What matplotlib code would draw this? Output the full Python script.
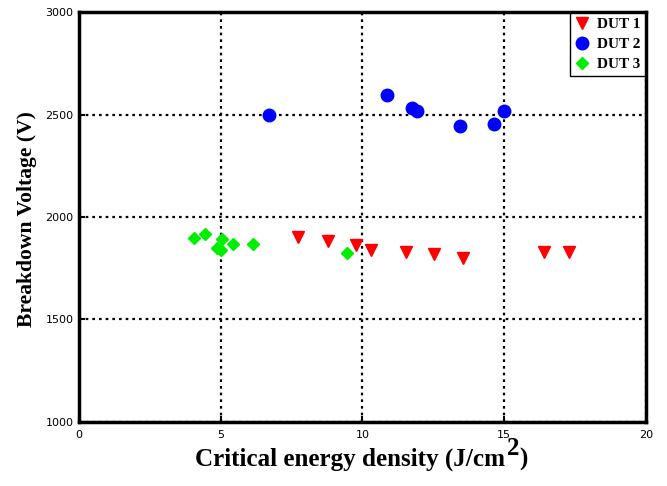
import matplotlib
matplotlib.use("Agg")
import matplotlib.pyplot as plt

# ---- data ----
dut1_x = [7.74, 8.79, 9.77, 10.30, 11.53, 12.53, 13.56, 16.41, 17.29]
dut1_y = [1904, 1883, 1863, 1841, 1829, 1820, 1801, 1831, 1831]

dut2_x = [6.70, 10.85, 11.76, 11.91, 13.44, 14.65, 14.99]
dut2_y = [2498, 2594, 2530, 2517, 2444, 2452, 2517]

dut3_x = [4.06, 4.45, 5.05, 4.88, 5.02, 5.42, 6.15, 9.46]
dut3_y = [1896, 1917, 1893, 1848, 1838, 1869, 1869, 1823]

series_labels = ["DUT 1", "DUT 2", "DUT 3"]
x_ticks = [0, 5, 10, 15, 20]
y_ticks = [1000, 1500, 2000, 2500, 3000]

serif_bold = dict(family="Liberation Serif", weight="bold")

fig = plt.figure(figsize=(6.67, 4.86), dpi=100)
ax_rect = [0.1184, 0.1317, 0.8501, 0.8436]
ax = fig.add_axes(ax_rect)

ax.plot(dut1_x, dut1_y, linestyle="none", marker="v", color="#ff0000",
        markersize=9, label=series_labels[0], zorder=3)
ax.plot(dut2_x, dut2_y, linestyle="none", marker="o", color="#0000ff",
        markersize=9, label=series_labels[1], zorder=3)
ax.plot(dut3_x, dut3_y, linestyle="none", marker="D", color="#00ee00",
        markersize=6.5, label=series_labels[2], zorder=3)

ax.set_xlim(0, 20)
ax.set_ylim(1000, 3000)
ax.set_xticks(x_ticks)
ax.set_yticks(y_ticks)
ax.set_xticklabels([str(v) for v in x_ticks], family="DejaVu Sans", fontsize=8)
ax.set_yticklabels([str(v) for v in y_ticks], family="DejaVu Sans", fontsize=8)
ax.tick_params(direction="in", length=4, width=1.5, colors="black")
ax.tick_params(axis="x", pad=6)
ax.tick_params(axis="y", pad=4)

ax.grid(True, color="black", linestyle=(0, (1.2, 1.8)), linewidth=1.6, zorder=1)
for s in ax.spines.values():
    s.set_linewidth(2.5)
    s.set_color("black")

ax.set_ylabel("Breakdown Voltage (V)", fontsize=15.6, **serif_bold)
ax.yaxis.set_label_coords(-0.074, 0.496)

# x label with full-size raised superscript "2"
fig.canvas.draw()
r = fig.canvas.get_renderer()
xl_size = 18.1
ybase = 1 - 466 / 486
t1 = fig.text(0.5, ybase, "Critical energy density (J/cm", fontsize=xl_size,
              ha="left", va="baseline", **serif_bold)
t2 = fig.text(0.5, ybase + 0.022, "2", fontsize=xl_size, ha="left", va="baseline", **serif_bold)
t3 = fig.text(0.5, ybase, ")", fontsize=xl_size, ha="left", va="baseline", **serif_bold)
w1 = t1.get_window_extent(r).width / fig.bbox.width
w2 = t2.get_window_extent(r).width / fig.bbox.width
x0 = 195 / 667
t1.set_x(x0)
t2.set_x(x0 + w1 + 0.003)
t3.set_x(x0 + w1 + w2 + 0.003)

leg = ax.legend(loc="upper right", prop=dict(family="Liberation Serif", weight="bold", size=11),
                frameon=True, fancybox=False, edgecolor="black", framealpha=1,
                borderpad=0.3, handletextpad=0.5, labelspacing=0.42, handlelength=1.0,
                borderaxespad=0.05)
leg.get_frame().set_linewidth(1.0)

fig.savefig("out.png", dpi=100)
